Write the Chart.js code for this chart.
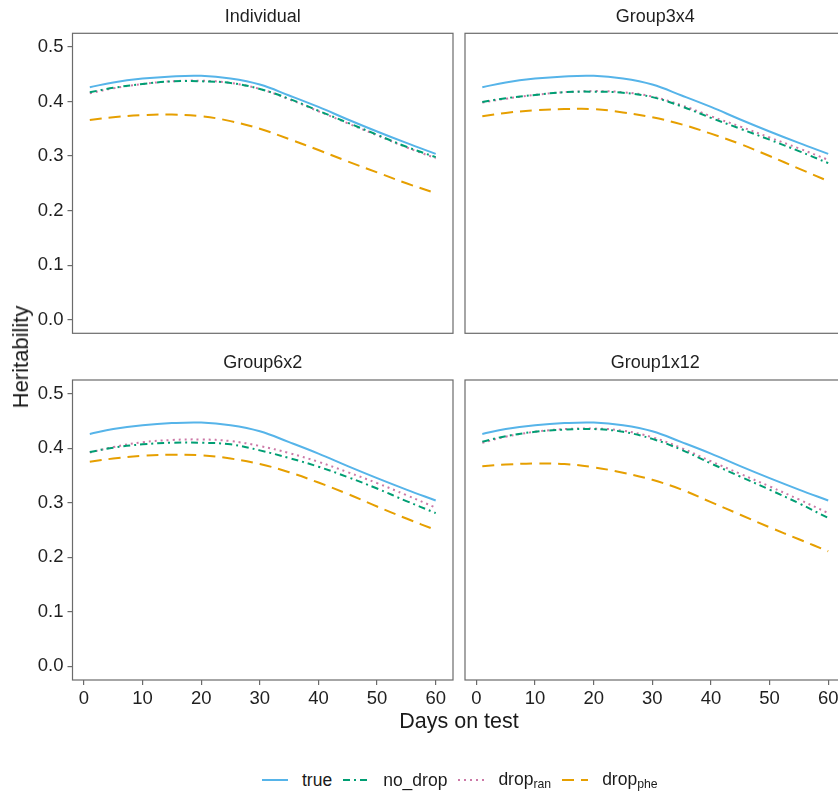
<!DOCTYPE html>
<html>
<head>
<meta charset="utf-8">
<title>Heritability by days on test</title>
<script src="https://cdn.jsdelivr.net/npm/chart.js@4.4.0/dist/chart.umd.min.js"></script>
<style>
  body {
    margin: 0;
    width: 838px;
    height: 792px;
    overflow: hidden;
    position: relative;
    background: #fff;
    font-family: "Liberation Sans", Arial, Helvetica, sans-serif;
    color: #1a1a1a;
  }
  canvas { position: absolute; }
  #ytitle {
    position: absolute;
    left: 21px;
    top: 357px;
    transform: translate(-50%, -50%) rotate(-90deg);
    font-size: 22px;
    white-space: nowrap;
  }
  #xtitle {
    position: absolute;
    left: 459px;
    top: 721px;
    transform: translate(-50%, -50%);
    font-size: 21.5px;
    white-space: nowrap;
  }
  #legend {
    position: absolute;
    left: 262px;
    top: 769px;
    display: flex;
    align-items: center;
    font-size: 17.5px;
    white-space: nowrap;
  }
  #legend .item { display: flex; align-items: center; margin-right: 11px; }
  #legend svg { margin-right: 14px; }
  #legend sub { font-size: 70%; vertical-align: -0.25em; }
</style>
</head>
<body>
<canvas id="c0" width="460" height="340" style="left:0;top:0"></canvas>
<canvas id="c1" width="400" height="340" style="left:460px;top:0"></canvas>
<canvas id="c2" width="460" height="400" style="left:0;top:340px"></canvas>
<canvas id="c3" width="400" height="400" style="left:460px;top:340px"></canvas>
<div id="ytitle">Heritability</div>
<div id="xtitle">Days on test</div>
<div id="legend"></div>

<script>
  // values, every 5 days on test
  const days = [1, 5, 10, 15, 20, 25, 30, 35, 40, 45, 50, 55, 60];
  const panelTitles = ["Individual", "Group3x4", "Group6x2", "Group1x12"];
  const yTicks = [0, 0.1, 0.2, 0.3, 0.4, 0.5];
  const xTicks = [0, 10, 20, 30, 40, 50, 60];

  const trueH = [0.426, 0.435, 0.442, 0.446, 0.447, 0.442, 0.431, 0.411, 0.390, 0.367, 0.345, 0.324, 0.304];

  const noDropIndividual = [0.417, 0.425, 0.432, 0.437, 0.437, 0.434, 0.423, 0.405, 0.383, 0.361, 0.339, 0.317, 0.298];
  const dropRanIndividual = [0.415, 0.424, 0.432, 0.437, 0.438, 0.434, 0.423, 0.404, 0.382, 0.360, 0.338, 0.316, 0.296];
  const dropPheIndividual = [0.366, 0.371, 0.375, 0.376, 0.373, 0.364, 0.350, 0.331, 0.311, 0.290, 0.270, 0.250, 0.232];

  const noDropGroup3x4 = [0.399, 0.406, 0.412, 0.417, 0.418, 0.416, 0.408, 0.391, 0.370, 0.350, 0.330, 0.309, 0.287];
  const dropRanGroup3x4 = [0.398, 0.405, 0.412, 0.417, 0.419, 0.417, 0.409, 0.393, 0.373, 0.354, 0.334, 0.314, 0.293];
  const dropPheGroup3x4 = [0.373, 0.379, 0.384, 0.386, 0.386, 0.380, 0.371, 0.358, 0.341, 0.322, 0.300, 0.277, 0.254];

  const noDropGroup6x2 = [0.393, 0.401, 0.407, 0.410, 0.410, 0.407, 0.396, 0.382, 0.366, 0.347, 0.326, 0.303, 0.281];
  const dropRanGroup6x2 = [0.392, 0.402, 0.411, 0.415, 0.416, 0.413, 0.404, 0.391, 0.375, 0.356, 0.336, 0.314, 0.291];
  const dropPheGroup6x2 = [0.375, 0.381, 0.386, 0.388, 0.387, 0.381, 0.371, 0.356, 0.337, 0.316, 0.293, 0.271, 0.250];

  const noDropGroup1x12 = [0.412, 0.422, 0.430, 0.434, 0.435, 0.430, 0.417, 0.397, 0.372, 0.348, 0.324, 0.299, 0.272];
  const dropRanGroup1x12 = [0.410, 0.421, 0.430, 0.435, 0.436, 0.432, 0.420, 0.400, 0.376, 0.353, 0.330, 0.306, 0.281];
  const dropPheGroup1x12 = [0.367, 0.370, 0.372, 0.371, 0.365, 0.355, 0.342, 0.324, 0.301, 0.278, 0.255, 0.233, 0.211];

  const panelSeries = [
    [trueH, noDropIndividual, dropRanIndividual, dropPheIndividual],
    [trueH, noDropGroup3x4, dropRanGroup3x4, dropPheGroup3x4],
    [trueH, noDropGroup6x2, dropRanGroup6x2, dropPheGroup6x2],
    [trueH, noDropGroup1x12, dropRanGroup1x12, dropPheGroup1x12],
  ];

  const seriesStyles = [
    { label: "true", color: "#56B4E9", dash: [] },
    { label: "no_drop", color: "#009E73", dash: [7, 4, 2, 4] },
    { label: "drop<sub>ran</sub>", color: "#CC79A7", dash: [2, 4] },
    { label: "drop<sub>phe</sub>", color: "#E69F00", dash: [12, 7] },
  ];

  const frameColor = "#6b6b6b";
  const textColor = "#1f1f1f";
  const fontFamily = '"Liberation Sans", Arial, Helvetica, sans-serif';

  // box around each facet
  const panelBorder = {
    id: "panelBorder",
    afterDatasetsDraw(chart) {
      const { ctx, chartArea } = chart;
      ctx.save();
      ctx.strokeStyle = frameColor;
      ctx.lineWidth = 1.2;
      ctx.strokeRect(chartArea.left, chartArea.top, chartArea.right - chartArea.left, chartArea.bottom - chartArea.top);
      ctx.restore();
    },
  };

  // which axes each facet shows, and the padding that lines the facets up
  const layouts = [
    { showY: true, showX: false, padding: { left: 0, right: 7, top: 0, bottom: 6.7 }, titlePad: { top: 6, bottom: 5.7 } },
    { showY: false, showX: false, padding: { left: 5, right: 14.5, top: 0, bottom: 6.7 }, titlePad: { top: 6, bottom: 5.7 } },
    { showY: true, showX: true, padding: { left: 0, right: 7, top: 0, bottom: 0 }, titlePad: { top: 12.2, bottom: 6.2 } },
    { showY: false, showX: true, padding: { left: 5, right: 14.5, top: 0, bottom: 0 }, titlePad: { top: 12.2, bottom: 6.2 } },
  ];

  panelTitles.forEach((title, p) => {
    const lay = layouts[p];
    const datasets = panelSeries[p].map((values, s) => ({
      label: seriesStyles[s].label,
      data: days.map((d, i) => ({ x: d, y: values[i] })),
      borderColor: seriesStyles[s].color,
      borderDash: seriesStyles[s].dash,
      borderWidth: 2,
      borderCapStyle: "butt",
      pointRadius: 0,
      fill: false,
      tension: 0.4,
      order: s,
    }));

    new Chart(document.getElementById("c" + p), {
      type: "line",
      data: { datasets: datasets },
      options: {
        responsive: false,
        animation: false,
        layout: { padding: lay.padding },
        plugins: {
          legend: { display: false },
          tooltip: { enabled: false },
          title: {
            display: true,
            text: title,
            fullSize: false,
            color: textColor,
            font: { family: fontFamily, size: 18, weight: "normal", lineHeight: 1.2 },
            padding: lay.titlePad,
          },
        },
        scales: {
          x: {
            type: "linear",
            min: -1.95,
            max: 62.95,
            display: lay.showX,
            afterBuildTicks: (axis) => { axis.ticks = xTicks.map((v) => ({ value: v })); },
            afterFit: (axis) => {
              axis.height = lay.showX ? 60 : 0;
              axis.paddingLeft = 0;
              axis.paddingRight = 0;
            },
            border: { display: false },
            grid: { drawOnChartArea: false, drawTicks: true, tickLength: 5, color: frameColor, lineWidth: 1.2 },
            ticks: {
              padding: 3,
              maxRotation: 0,
              color: textColor,
              font: { family: fontFamily, size: 18.5 },
            },
          },
          y: {
            min: -0.025,
            max: 0.525,
            display: lay.showY,
            afterBuildTicks: (axis) => { axis.ticks = yTicks.map((v) => ({ value: v })); },
            afterFit: (axis) => {
              axis.width = lay.showY ? 72.5 : 0;
              // tick labels sit inside the expanded range, so no extra room is needed
              axis.paddingTop = 0;
              axis.paddingBottom = 0;
            },
            border: { display: false },
            grid: { drawOnChartArea: false, drawTicks: true, tickLength: 5, color: frameColor, lineWidth: 1.2 },
            ticks: {
              padding: 4,
              color: textColor,
              font: { family: fontFamily, size: 18.5 },
              callback: (value) => value.toFixed(1),
            },
          },
        },
      },
      plugins: [panelBorder],
    });
  });

  // legend with subscripts, built from the series styles
  const legend = document.getElementById("legend");
  seriesStyles.forEach((st) => {
    const item = document.createElement("div");
    item.className = "item";
    item.innerHTML =
      '<svg width="26" height="10"><line x1="0" y1="5" x2="26" y2="5" stroke="' + st.color +
      '" stroke-width="2" stroke-dasharray="' + (st.dash.length ? st.dash.join(" ") : "none") + '"/></svg>' +
      "<span>" + st.label + "</span>";
    legend.appendChild(item);
  });
</script>
</body>
</html>
